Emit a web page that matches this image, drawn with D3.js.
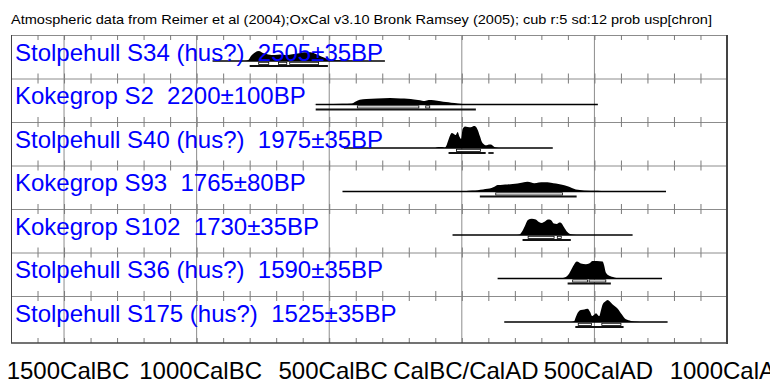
<!DOCTYPE html>
<html>
<head>
<meta charset="utf-8">
<script src="https://cdn.jsdelivr.net/npm/d3@7"></script>
<style>
  body { margin: 0; background: #fff; }
  svg { display: block; }
</style>
</head>
<body>
<div id="chart"></div>
<script>
// header + sample info
const headerText = "Atmospheric data from Reimer et al (2004);OxCal v3.10 Bronk Ramsey (2005); cub r:5 sd:12 prob usp[chron]";
const sampleNames = ["Stolpehull S34 (hus?)", "Kokegrop S2", "Stolpehull S40 (hus?)", "Kokegrop S93",
  "Kokegrop S102", "Stolpehull S36 (hus?)", "Stolpehull S175 (hus?)"];
const bpDates = ["2505±35BP", "2200±100BP", "1975±35BP", "1765±80BP", "1730±35BP", "1590±35BP", "1525±35BP"];

// calendar years (negative = BC)
const plotRange = [[-940, -290], [-551, 513], [-445, 343], [-450, 770], [-35, 644], [135, 755], [160, 776]];
const range68 = [
  [[-766, -728], [-691, -660], [-649, -540]],
  [[-394, -162], [-136, -121]],
  [[-20, 70]],
  [[128, 380]],
  [[250, 348], [360, 375]],
  [[418, 474], [480, 543]],
  [[439, 489], [528, 600]]
];
const range95 = [
  [[-800, -505]],
  [[-551, 53]],
  [[-50, 90], [100, 120]],
  [[68, 433]],
  [[229, 411]],
  [[399, 562]],
  [[428, 610]]
];

// relative probability (% of tallest peak), [year, p]
const densS34 = [[-820, 0], [-805, 5], [-795, 23], [-780, 39], [-765, 45], [-750, 36], [-730, 30], [-705, 27],
  [-685, 30], [-665, 27], [-645, 30], [-620, 34], [-595, 40], [-570, 40], [-550, 32], [-530, 20], [-510, 11],
  [-490, 5], [-460, 3], [-420, 1], [-380, 0]];
const densS2 = [[-560, 0], [-520, 1], [-450, 3], [-415, 5], [-400, 14], [-385, 22], [-360, 25], [-320, 27],
  [-270, 29], [-230, 27], [-205, 26], [-180, 23], [-165, 20], [-150, 17], [-140, 16], [-125, 20], [-105, 19],
  [-80, 15], [-60, 11], [-40, 8], [-15, 5], [20, 2], [60, 1], [110, 0]];
const densS40 = [[-100, 0], [-87, 4], [-75, 4], [-65, 1], [-57, 14], [-48, 45], [-38, 68], [-30, 64], [-23, 59],
  [-16, 73], [-8, 50], [-3, 41], [3, 86], [12, 98], [22, 95], [34, 94], [45, 100], [52, 98], [60, 82], [68, 55],
  [76, 27], [84, 16], [92, 12], [102, 16], [110, 16], [118, 9], [128, 2], [140, 0]];
const densS93 = [[-20, 0], [10, 1], [40, 4], [60, 6], [80, 9], [97, 12], [112, 16], [125, 23], [135, 29],
  [155, 31], [172, 32], [192, 34], [210, 36], [230, 41], [248, 44], [262, 41], [273, 38], [290, 41], [310, 42],
  [336, 40], [355, 36], [374, 32], [399, 24], [415, 16], [430, 9], [461, 5], [512, 3], [540, 1], [570, 0]];
const densS102 = [[200, 0], [215, 1], [226, 14], [238, 41], [249, 68], [264, 74], [279, 70], [291, 59], [302, 55],
  [313, 61], [325, 70], [336, 68], [347, 52], [358, 50], [368, 57], [375, 55], [385, 36], [396, 16], [408, 5],
  [423, 1], [442, 0]];
const densS36 = [[370, 0], [385, 3], [395, 9], [405, 23], [415, 45], [424, 65], [434, 77], [449, 68], [468, 65],
  [480, 68], [493, 80], [509, 80], [531, 77], [537, 58], [543, 27], [556, 12], [575, 5], [590, 1], [605, 0]];
const densS175 = [[410, 0], [424, 5], [430, 23], [437, 42], [449, 55], [462, 57], [474, 60], [484, 45], [491, 27],
  [500, 34], [506, 40], [518, 27], [525, 55], [531, 80], [541, 93], [550, 100], [560, 91], [569, 80], [588, 60],
  [603, 35], [619, 12], [638, 5], [663, 1], [680, 0]];
const densities = [densS34, densS2, densS40, densS93, densS102, densS36, densS175];

const axisTicks = [-1500, -1000, -500, 0, 500, 1000];
const axisLabels = ["1500CalBC", "1000CalBC", "500CalBC", "CalBC/CalAD", "500CalAD", "1000CalAD"];
const minorTicks = d3.range(-1700, 1001, 100);

const width = 770, height = 383;
const plotLeft = 11, plotRight = 727, plotTop = 35, plotBottom = 343;
const font = "'Liberation Sans', Arial, sans-serif";

const x = d3.scaleLinear().domain([-1700, 1000]).range([plotLeft, plotRight]);
const row = d3.scaleBand().domain(d3.range(sampleNames.length)).range([plotTop, 339.5]);
const h = d3.scaleLinear().domain([0, 100]).range([0, 22]);

const rowTop = i => row(i);
const rowBottom = i => i === sampleNames.length - 1 ? plotBottom : row(i) + row.bandwidth();
const base = i => row(i) + 26;

const svg = d3.select("#chart").append("svg")
  .attr("width", width)
  .attr("height", height)
  .style("font-family", font);

svg.append("text")
  .attr("x", 11)
  .attr("y", 24)
  .attr("font-size", 13)
  .attr("textLength", 701)
  .attr("lengthAdjust", "spacingAndGlyphs")
  .attr("fill", "#000")
  .text(headerText);

// grid
const grid = svg.append("g");
grid.selectAll("line.vmaj")
  .data(axisTicks.filter(t => t < 1000))
  .join("line")
  .attr("x1", d => x(d)).attr("x2", d => x(d))
  .attr("y1", plotTop).attr("y2", plotBottom)
  .attr("stroke", "#8c8c8c").attr("stroke-width", 1);

grid.selectAll("line.hsep")
  .data(d3.range(sampleNames.length))
  .join("line")
  .attr("x1", plotLeft).attr("x2", plotRight)
  .attr("y1", d => rowTop(d) + 0.5).attr("y2", d => rowTop(d) + 0.5)
  .attr("stroke", "#8c8c8c");

const ticks = [];
sampleNames.forEach((_, i) => {
  minorTicks.forEach(t => {
    ticks.push({ t, y1: rowTop(i), y2: rowTop(i) + 5 });
    ticks.push({ t, y1: rowBottom(i) - 5, y2: rowBottom(i) });
  });
});
grid.selectAll("line.tick")
  .data(ticks)
  .join("line")
  .attr("x1", d => x(d.t) + 0.5).attr("x2", d => x(d.t) + 0.5)
  .attr("y1", d => d.y1).attr("y2", d => d.y2)
  .attr("stroke", "#7a7a7a");

// frame
grid.append("line").attr("x1", plotLeft + 0.5).attr("x2", plotLeft + 0.5).attr("y1", plotTop).attr("y2", plotBottom)
  .attr("stroke", "#444");
grid.append("line").attr("x1", plotRight).attr("x2", plotRight).attr("y1", plotTop).attr("y2", plotBottom + 1)
  .attr("stroke", "#444").attr("stroke-width", 2);
grid.append("line").attr("x1", plotLeft).attr("x2", plotRight).attr("y1", plotBottom).attr("y2", plotBottom)
  .attr("stroke", "#444").attr("stroke-width", 1.5);

// distributions
const marks = svg.append("g");
densities.forEach((dens, i) => {
  const g = marks.append("g");
  const b = base(i);
  const area = d3.area()
    .x(d => x(d[0]))
    .y0(b)
    .y1(d => b - h(d[1]))
    .curve(d3.curveMonotoneX);
  g.append("path").datum(dens).attr("d", area).attr("fill", "#000");
  g.append("line")
    .attr("x1", x(plotRange[i][0])).attr("x2", x(plotRange[i][1]))
    .attr("y1", b).attr("y2", b)
    .attr("stroke", "#000").attr("stroke-width", 1.5);
  g.selectAll("line.r95")
    .data(range95[i])
    .join("line")
    .attr("x1", d => x(d[0])).attr("x2", d => x(d[1]))
    .attr("y1", b + 5).attr("y2", b + 5)
    .attr("stroke", "#111").attr("stroke-width", 1.8);
  g.selectAll("rect.r68")
    .data(range68[i])
    .join("rect")
    .attr("x", d => x(d[0])).attr("width", d => x(d[1]) - x(d[0]))
    .attr("y", b + 1.3).attr("height", 2.2)
    .attr("fill", "#fff").attr("stroke", "#000").attr("stroke-width", 0.8);
});

// sample labels
svg.append("g")
  .selectAll("text")
  .data(sampleNames)
  .join("text")
  .attr("x", 15)
  .attr("y", (d, i) => rowTop(i) + 25.5)
  .attr("font-size", 24)
  .attr("fill", "#0000ff")
  .style("white-space", "pre")
  .text((d, i) => d + "  " + bpDates[i]);

// axis labels
svg.append("g")
  .selectAll("text")
  .data(axisTicks)
  .join("text")
  .attr("x", d => x(d) + 4)
  .attr("y", 379)
  .attr("text-anchor", "middle")
  .attr("font-size", 24)
  .attr("fill", "#000")
  .text((d, i) => axisLabels[i]);
</script>
</body>
</html>
